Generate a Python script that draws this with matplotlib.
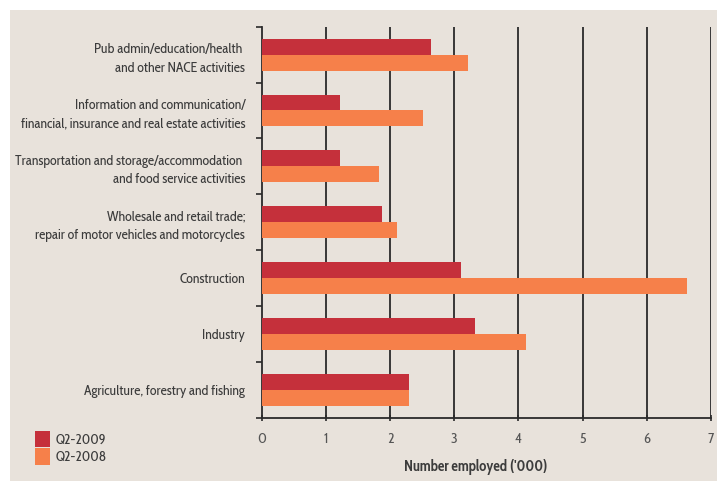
import matplotlib
matplotlib.use("Agg")
import matplotlib.pyplot as plt
from matplotlib.patches import Rectangle, Patch
from matplotlib.ticker import FixedLocator

categories = [
    "Agriculture, forestry and fishing",
    "Industry",
    "Construction",
    "Wholesale and retail trade;\nrepair of motor vehicles and motorcycles",
    "Transportation and storage/accommodation \nand food service activities",
    "Information and communication/\nfinancial, insurance and real estate activities",
    "Pub admin/education/health \nand other NACE activities",
]
q2_2009 = [2.29, 3.32, 3.10, 1.87, 1.22, 1.22, 2.64]
q2_2008 = [2.29, 4.12, 6.62, 2.11, 1.83, 2.51, 3.21]
x_ticks = [0, 1, 2, 3, 4, 5, 6, 7]
series_labels = ["Q2-2009", "Q2-2008"]

RED = "#C5303B"
ORANGE = "#F6804A"
BG = "#E8E2DB"
TXT = "#3c3c3c"
FONT = ["Cabin Condensed", "DejaVu Sans"]

plt.rcParams["font.family"] = FONT

fig = plt.figure(figsize=(7.17, 4.83), dpi=100)
fig.patch.set_facecolor("white")
fig.patches.append(Rectangle((10 / 717, 0.004), 1, 1 - 10 / 483 - 0.004,
                             transform=fig.transFigure, facecolor=BG,
                             edgecolor="none", zorder=-10))

ax = fig.add_axes([261.7 / 717, 1 - 417.7 / 483, (711 - 261.7) / 717, (417.7 - 26.7) / 483])
ax.set_facecolor("none")

h = 0.285
ys = list(range(len(categories)))
ax.barh([y + h / 2 for y in ys], q2_2009, height=h, color=RED, zorder=3, label=series_labels[0])
ax.barh([y - h / 2 for y in ys], q2_2008, height=h, color=ORANGE, zorder=3, label=series_labels[1])

ax.set_xlim(0, 7)
ax.set_ylim(-0.5, len(categories) - 0.5)
ax.set_xticks(x_ticks)
ax.set_xticklabels([str(t) for t in x_ticks], color="#555555", fontsize=10.5)
for t in x_ticks[1:]:
    ax.axvline(t, color="#2a2a2a", lw=1.3, zorder=2)

ax.set_yticks(ys)
ax.set_yticklabels(categories, color=TXT, fontsize=10.0, linespacing=1.55)
ax.tick_params(axis="y", which="major", length=0, pad=12)
ax.yaxis.set_minor_locator(FixedLocator([y + 0.5 for y in ys] + [-0.5]))
ax.tick_params(axis="y", which="minor", length=4, width=1.2, color="#2a2a2a", direction="out")
ax.tick_params(axis="x", length=4, width=1.2, color="#2a2a2a", direction="inout", pad=8)

for s in ["top", "right"]:
    ax.spines[s].set_visible(False)
for s in ["left", "bottom"]:
    ax.spines[s].set_color("#2a2a2a")
    ax.spines[s].set_linewidth(1.3)

fig.text(476 / 717, 1 - 467 / 483, "Number employed ('000)", ha="center", va="center",
         fontsize=10.5, fontweight="bold", color=TXT)

handles = [Patch(facecolor=RED, edgecolor="none"), Patch(facecolor=ORANGE, edgecolor="none")]
fig.legend(handles, series_labels, loc="upper left", bbox_to_anchor=(22 / 717, 1 - 418 / 483),
           frameon=False, fontsize=10, handlelength=1.15, handleheight=1.45,
           handletextpad=0.4, labelspacing=0.1, labelcolor=TXT)

fig.savefig("out.png", dpi=100, facecolor="white")
